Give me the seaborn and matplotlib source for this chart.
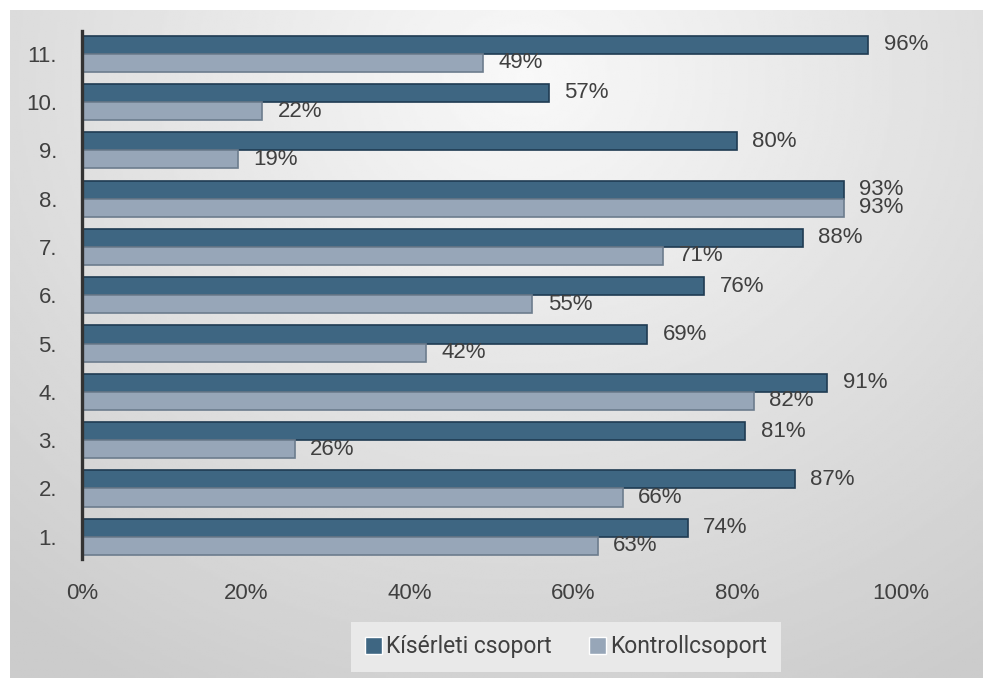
import numpy as np
import pandas as pd
import matplotlib
matplotlib.use("Agg")
import matplotlib.pyplot as plt
import seaborn as sns

# data
kerdesek = ["1.", "2.", "3.", "4.", "5.", "6.", "7.", "8.", "9.", "10.", "11."]
kiserleti = [74, 87, 81, 91, 69, 76, 88, 93, 80, 57, 96]
kontroll = [63, 66, 26, 82, 42, 55, 71, 93, 19, 22, 49]
csoportok = ["Kísérleti csoport", "Kontrollcsoport"]

df = pd.DataFrame({
    "kerdes": kerdesek * 2,
    "ertek": kiserleti + kontroll,
    "csoport": [csoportok[0]] * len(kerdesek) + [csoportok[1]] * len(kerdesek),
})

sns.set_style("white")
plt.rcParams["font.family"] = ["Liberation Sans", "DejaVu Sans"]
text_col = "#404040"

fig = plt.figure(figsize=(9.83, 6.78), dpi=100, facecolor="white")

# gradient background panel (starts 10 px in from the top and left)
bg = fig.add_axes([10 / 983, 0, 1 - 10 / 983, 1 - 10 / 678])
yy, xx = np.mgrid[0:1:300j, 0:1:400j]
r = np.sqrt(((xx - 0.53) / 0.75) ** 2 + ((yy - 0.1) / 0.95) ** 2)
shade = np.clip(0.975 - 0.16 * r, 0.8, 0.975)
bg.imshow(shade, cmap="gray", vmin=0, vmax=1, aspect="auto", extent=[0, 1, 1, 0])
bg.set_xlim(0, 1)
bg.set_ylim(1, 0)
bg.set_axis_off()

ax = fig.add_axes([82 / 983, 1 - 559 / 678, (901 - 82) / 983, (559 - 31) / 678])
ax.patch.set_alpha(0)

order = kerdesek[::-1]
sns.barplot(data=df, y="kerdes", x="ertek", hue="csoport", order=order,
            hue_order=csoportok, orient="h", width=0.75, saturation=1,
            palette=["#3e6682", "#97a6b8"], ax=ax, legend=True)

edges = ["#1f3b52", "#6c7c8d"]
for cont, ec in zip(ax.containers, edges):
    for bar in cont:
        bar.set_edgecolor(ec)
        bar.set_linewidth(1.2)
    ax.bar_label(cont, fmt="%d%%", padding=11, fontsize=16, color=text_col)

ax.set_xlim(0, 100)
ax.set_ylim(10.46, -0.47)
ax.set_xticks([0, 20, 40, 60, 80, 100])
ax.set_xticklabels(["0%", "20%", "40%", "60%", "80%", "100%"])
ax.tick_params(axis="x", length=0, pad=17, labelsize=16, labelcolor=text_col)
ax.tick_params(axis="y", length=0, pad=18, labelsize=16, labelcolor=text_col)
ax.set_xlabel("")
ax.set_ylabel("")
for s in ["top", "right", "bottom"]:
    ax.spines[s].set_visible(False)
ax.spines["left"].set_color("#333333")
ax.spines["left"].set_linewidth(2.4)

handles, labels = ax.get_legend_handles_labels()
ax.get_legend().remove()
leg = fig.legend(handles, labels, loc="center", bbox_to_anchor=(566 / 983, 1 - 647 / 678),
                 ncol=2, frameon=True, fancybox=False, facecolor="#e9e9e9", edgecolor="none",
                 framealpha=1, handlelength=0.75, handleheight=0.75,
                 handletextpad=0.2, columnspacing=1.6, borderpad=0.6, borderaxespad=0,
                 prop={"family": ["Roboto", "DejaVu Sans"], "size": 16.5})
for t in leg.get_texts():
    t.set_color(text_col)

fig.savefig("out.png", dpi=100, facecolor="white")
